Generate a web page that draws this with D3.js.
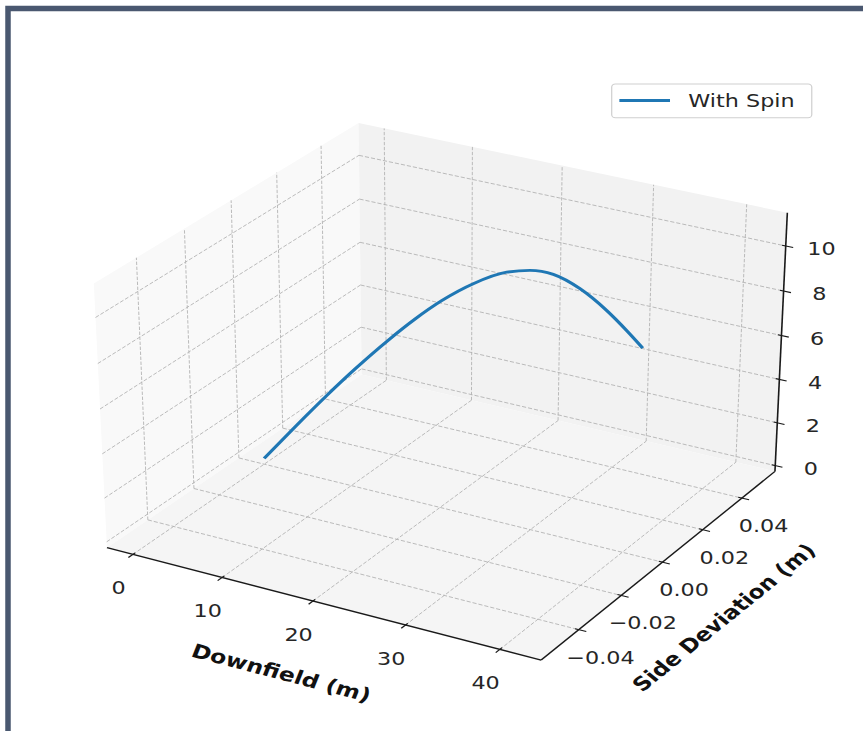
<!DOCTYPE html>
<html>
<head>
<meta charset="utf-8">
<script src="https://cdn.jsdelivr.net/npm/d3@7"></script>
<style>
body { margin: 0; background: #fff; }
text { font-family: "DejaVu Sans", sans-serif; fill: #262626; }
</style>
</head>
<body>
<svg id="chart" width="863" height="731"></svg>
<script>
// ball path (downfield m, side m, height m)
var downfield = [0, 3.65, 7.35, 10.59, 14.33, 17.28, 20.20, 23.60, 27.16, 29.62, 32.08, 34.90, 37.73, 39.86, 41.57];
var sideDev   = [0, 0, 0, 0, 0, 0, 0, 0, 0, 0, 0, 0, 0, 0, 0];
var rise      = [0, 1.83, 3.64, 5.16, 6.81, 8.02, 9.10, 10.15, 10.97, 11.27, 11.32, 10.96, 10.28, 9.61, 9.01];
var seriesName = 'With Spin';

var xTicks = [0, 10, 20, 30, 40];
var yTicks = [-0.04, -0.02, 0, 0.02, 0.04];
var zTicks = [0, 2, 4, 6, 8, 10];

var xLim = [-2.94, 44.31];
var yLim = [-0.0573, 0.0573];
var zLim = [-0.27, 11.46];

var svg = d3.select('#chart');

// the picture is a bit wider than it is tall, so draw in square units and stretch
var stretch = 1.238;
var view = { cx: 360.4, cy: 380.7, scale: 4023, dist: 40 };

var elev = 30 * Math.PI / 180, azim = -60 * Math.PI / 180;

function dot(a, b) { return a[0] * b[0] + a[1] * b[1] + a[2] * b[2]; }
function cross(a, b) {
    return [a[1] * b[2] - a[2] * b[1], a[2] * b[0] - a[0] * b[2], a[0] * b[1] - a[1] * b[0]];
}
function norm(a) { var l = Math.sqrt(dot(a, a)); return [a[0] / l, a[1] / l, a[2] / l]; }

var w = [Math.cos(elev) * Math.cos(azim), Math.cos(elev) * Math.sin(azim), Math.sin(elev)];
var u = norm(cross([0, 0, 1], w));
var v = cross(w, u);

// data -> box units (4 x 4 x 3 box)
var xScale = d3.scaleLinear().domain(xLim).range([0, 4]);
var yScale = d3.scaleLinear().domain(yLim).range([0, 4]);
var zScale = d3.scaleLinear().domain(zLim).range([0, 3]);

function project(x, y, z) {
    var p = [xScale(x) - 2, yScale(y) - 2, zScale(z) - 1.5];
    var den = view.dist - dot(w, p);
    return [view.cx + view.scale * dot(u, p) / den, view.cy - view.scale * dot(v, p) / den];
}

var line = d3.line();

// frame round the picture
svg.append('rect')
    .attr('x', 8).attr('y', 8.5)
    .attr('width', 900).attr('height', 800)
    .attr('fill', 'none')
    .attr('stroke', '#4a5870')
    .attr('stroke-width', 5.5);

var g = svg.append('g').attr('transform', 'scale(' + stretch + ',1)');

var x0 = xLim[0], x1 = xLim[1], y0 = yLim[0], y1 = yLim[1], z0 = zLim[0], z1 = zLim[1];

// panes
var panes = [
    { fill: '#f9f9f9', pts: [[x0, y0, z0], [x0, y1, z0], [x0, y1, z1], [x0, y0, z1]] },
    { fill: '#f2f2f2', pts: [[x0, y1, z0], [x1, y1, z0], [x1, y1, z1], [x0, y1, z1]] },
    { fill: '#f5f5f5', pts: [[x0, y0, z0], [x1, y0, z0], [x1, y1, z0], [x0, y1, z0]] }
];
g.selectAll('path.pane')
    .data(panes)
    .enter().append('path')
    .attr('class', 'pane')
    .attr('d', function (d) { return line(d.pts.map(function (p) { return project(p[0], p[1], p[2]); })) + 'Z'; })
    .attr('fill', function (d) { return d.fill; });

// grid lines
var grid = [];
xTicks.forEach(function (t) {
    grid.push([[t, y0, z0], [t, y1, z0]]);
    grid.push([[t, y1, z0], [t, y1, z1]]);
});
yTicks.forEach(function (t) {
    grid.push([[x0, t, z0], [x1, t, z0]]);
    grid.push([[x0, t, z0], [x0, t, z1]]);
});
zTicks.forEach(function (t) {
    grid.push([[x0, y0, t], [x0, y1, t]]);
    grid.push([[x0, y1, t], [x1, y1, t]]);
});
g.selectAll('path.grid')
    .data(grid)
    .enter().append('path')
    .attr('class', 'grid')
    .attr('d', function (d) { return line(d.map(function (p) { return project(p[0], p[1], p[2]); })); })
    .attr('fill', 'none')
    .attr('stroke', '#b3b3b3')
    .attr('stroke-width', 0.8)
    .attr('stroke-dasharray', '3.4,1.6');

// axis lines
var axes = [
    [[x0, y0, z0], [x1, y0, z0]],
    [[x1, y0, z0], [x1, y1, z0]],
    [[x1, y1, z0], [x1, y1, z1]]
];
g.selectAll('path.axis')
    .data(axes)
    .enter().append('path')
    .attr('class', 'axis')
    .attr('d', function (d) { return line(d.map(function (p) { return project(p[0], p[1], p[2]); })); })
    .attr('fill', 'none')
    .attr('stroke', '#1a1a1a')
    .attr('stroke-width', 1.3);

// tick marks: 0.2 of a twelfth outward, 0.1 inward
var dx = (x1 - x0) / 12, dy = (y1 - y0) / 12;
var ticks = [];
xTicks.forEach(function (t) { ticks.push([[t, y0 - 0.2 * dy, z0], [t, y0 + 0.1 * dy, z0]]); });
yTicks.forEach(function (t) { ticks.push([[x1 + 0.2 * dx, t, z0], [x1 - 0.1 * dx, t, z0]]); });
zTicks.forEach(function (t) { ticks.push([[x1 + 0.2 * dx, y1, t], [x1 - 0.1 * dx, y1, t]]); });
g.selectAll('path.tick')
    .data(ticks)
    .enter().append('path')
    .attr('class', 'tick')
    .attr('d', function (d) { return line(d.map(function (p) { return project(p[0], p[1], p[2]); })); })
    .attr('stroke', '#1a1a1a')
    .attr('stroke-width', 1.1);

// tick labels
function tickLabels(cls, vals, at, off, fmt) {
    g.selectAll('text.' + cls)
        .data(vals)
        .enter().append('text')
        .attr('class', cls)
        .attr('x', function (d) { return at(d)[0] + off[0]; })
        .attr('y', function (d) { return at(d)[1] + off[1]; })
        .attr('text-anchor', 'middle')
        .attr('dominant-baseline', 'central')
        .attr('font-size', 18)
        .text(fmt);
}
tickLabels('xl', xTicks, function (t) { return project(t, y0, z0); }, [-11.6, 33.6], d3.format('d'));
tickLabels('yl', yTicks, function (t) { return project(x1, t, z0); }, [17.5, 27.8], d3.format('.2f'));
tickLabels('zl', zTicks, function (t) { return project(x1, y1, t); }, [28.8, 3], d3.format('d'));

// axis titles, turned along their axes
function axisTitle(label, a, b, off) {
    var pa = project(a[0], a[1], a[2]), pb = project(b[0], b[1], b[2]);
    var mx = (pa[0] + pb[0]) / 2 + off[0], my = (pa[1] + pb[1]) / 2 + off[1];
    var ang = Math.atan2(pb[1] - pa[1], pb[0] - pa[0]) * 180 / Math.PI;
    g.append('text')
        .attr('transform', 'translate(' + mx + ',' + my + ') rotate(' + ang + ')')
        .attr('text-anchor', 'middle')
        .attr('dominant-baseline', 'central')
        .attr('font-size', 19)
        .attr('font-weight', 'bold')
        .style('fill', '#111')
        .text(label);
}
axisTitle('Downfield (m)', [x0, y0, z0], [x1, y0, z0], [-34.5, 69.1]);
axisTitle('Side Deviation (m)', [x1, y0, z0], [x1, y1, z0], [53.2, 51.8]);

// the ball path
var pts = downfield.map(function (d, i) { return project(d, sideDev[i], rise[i]); });
g.append('path')
    .attr('d', d3.line().curve(d3.curveMonotoneX)(pts))
    .attr('fill', 'none')
    .attr('stroke', '#1f77b4')
    .attr('stroke-width', 2.8);

// legend
var leg = g.append('g').attr('class', 'legend');
leg.append('rect')
    .attr('x', 494.1).attr('y', 84)
    .attr('width', 161.6).attr('height', 33.7)
    .attr('rx', 3)
    .attr('fill', '#fff')
    .attr('stroke', '#d0d0d0')
    .attr('stroke-width', 1);
leg.append('line')
    .attr('x1', 500.3).attr('x2', 541.2)
    .attr('y1', 100.5).attr('y2', 100.5)
    .attr('stroke', '#1f77b4')
    .attr('stroke-width', 2.8);
leg.append('text')
    .attr('x', 556).attr('y', 107)
    .attr('font-size', 18)
    .text(seriesName);
</script>
</body>
</html>
